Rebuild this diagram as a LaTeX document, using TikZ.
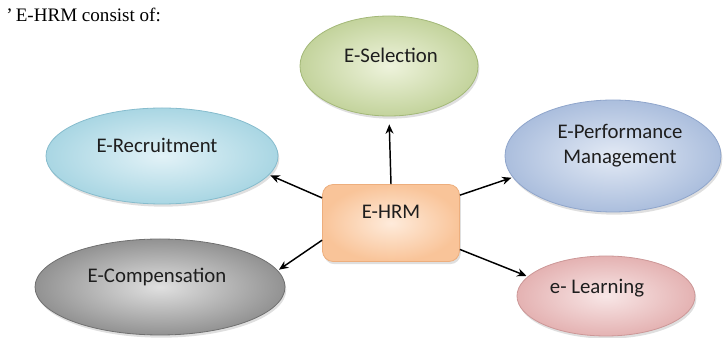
\documentclass[tikz,border=0pt]{standalone}
\usepackage{fontspec}
\setmainfont{Carlito}
\newfontfamily\ttlfont{Liberation Serif}
\usetikzlibrary{shapes.geometric,shadows,arrows.meta}

\definecolor{txt}{HTML}{1E1E1E}
\definecolor{selin}{HTML}{EEF3DC}\definecolor{selout}{HTML}{C3D39C}\definecolor{selline}{HTML}{A3B878}
\definecolor{recin}{HTML}{E2F2F7}\definecolor{recout}{HTML}{A9D6E3}\definecolor{recline}{HTML}{86BCCD}
\definecolor{perfin}{HTML}{E3EAF5}\definecolor{perfout}{HTML}{ABBEDD}\definecolor{perfline}{HTML}{8FA5CB}
\definecolor{hrmin}{HTML}{FEEBDB}\definecolor{hrmout}{HTML}{F9C499}\definecolor{hrmline}{HTML}{EDAE7D}
\definecolor{compin}{HTML}{E0E0E0}\definecolor{compout}{HTML}{929292}\definecolor{compline}{HTML}{707070}
\definecolor{learnin}{HTML}{F8E6E6}\definecolor{learnout}{HTML}{E4B2B2}\definecolor{learnline}{HTML}{CC9797}

\tikzset{
every picture/.style={x=0.75pt,y=-0.75pt},
bubble/.style={ellipse, inner sep=0pt, shading=radial, inner color=#1in, outer color=#1out,
  draw=#1line, line width=0.6pt,
  drop shadow={shadow xshift=1pt, shadow yshift=-2pt, opacity=0.25}},
hub/.style={rectangle, rounded corners=8pt, inner sep=0pt, shading=radial, inner color=hrmin,
  outer color=hrmout, draw=hrmline, line width=0.6pt,
  drop shadow={shadow xshift=1pt, shadow yshift=-2pt, opacity=0.25}},
lbl/.style={font=\fontsize{15.6}{18.75}\selectfont, text=txt, align=center, inner sep=0pt},
link/.style={-{Stealth[length=7pt,width=6pt]}, line width=1.1pt},
title/.style={font=\ttlfont\fontsize{14.3}{16}\selectfont, anchor=west, inner sep=0pt}
}

\begin{document}
\begin{tikzpicture}
      \useasboundingbox (0,0) rectangle (725,338);
      \node[title] (ttl) at (6,15) {\textquoteright\,E-HRM consist of:};

      \node[bubble=sel, minimum width=133.5pt, minimum height=75pt] (sel) at (389,66) {};
      \node[lbl] (selText) at (391,55) {E-Selection};
      \node[bubble=rec, minimum width=174pt, minimum height=72pt] (rec) at (162,156) {};
      \node[lbl] (recText) at (157,145) {E-Recruitment};
      \node[bubble=perf, minimum width=162pt, minimum height=84pt] (perf) at (613,156) {};
      \node[lbl] (perfText) at (620,146) {E-Performance\\Management};
      \node[bubble=comp, minimum width=187.5pt, minimum height=72pt] (comp) at (160,287) {};
      \node[lbl] (compText) at (157,277) {E-Compensation};
      \node[bubble=learn, minimum width=133.5pt, minimum height=60pt] (learn) at (606,296) {};
      \node[lbl] (learnText) at (597,288) {e- Learning};

      \node[hub, minimum width=102.75pt, minimum height=57.75pt] (hrm) at (391,223) {};
      \node[lbl] (hrmText) at (391,212) {E-HRM};

      \foreach \from/\to/\gap in {north/sel.south/6pt, 160/rec.-10/1pt, 22/perf.192/1pt,
                                  194/comp.8/1pt, -21/learn.166/1pt} {
        \draw[link, shorten >=\gap] (hrm.\from) -- (\to);
      }
    \end{tikzpicture}
\end{document}
